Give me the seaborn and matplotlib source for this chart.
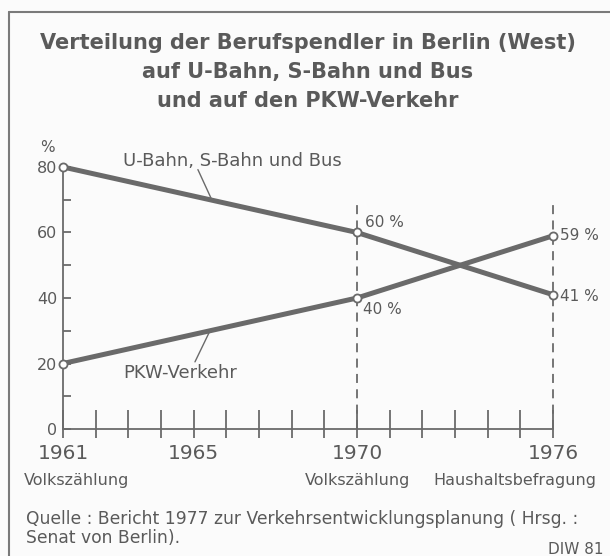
import numpy as np
import pandas as pd
import matplotlib
matplotlib.use("Agg")
import matplotlib.pyplot as plt
import seaborn as sns
from matplotlib.ticker import FixedLocator
from matplotlib.lines import Line2D
from matplotlib.transforms import blended_transform_factory

# ---------------- data ----------------
years = [1961, 1970, 1976]
oepnv_share = [80, 60, 41]
pkw_share = [20, 40, 59]
series_names = ["U-Bahn, S-Bahn und Bus", "PKW-Verkehr"]
year_ticks = list(range(1961, 1977))
year_labels = {1961: "1961", 1965: "1965", 1970: "1970", 1976: "1976"}
survey_labels = ["Volkszählung", "Volkszählung", "Haushaltsbefragung"]
y_major = [0, 20, 40, 60, 80]
y_minor = [10, 30, 50, 70]
oepnv_value_labels = ["", "60 %", "41 %"]
pkw_value_labels = ["", "40 %", "59 %"]
dashed_years = [1970, 1976]
dashed_top = 70
title_lines = ["Verteilung der Berufspendler in Berlin (West)",
               "auf U-Bahn, S-Bahn und Bus",
               "und auf den PKW-Verkehr"]
source_text = ["Quelle : Bericht 1977 zur Verkehrsentwicklungsplanung ( Hrsg. :",
               "Senat von Berlin)."]
credit = "DIW 81"

df = pd.DataFrame({
    "Jahr": years * 2,
    "Anteil": oepnv_share + pkw_share,
    "Verkehrsmittel": [series_names[0]] * len(years) + [series_names[1]] * len(years),
})

# ---------------- style ----------------
sns.set_style("white")
plt.rcParams["font.family"] = ["DejaVu Sans"]
GRAY = "#5a5a5a"
LINE = "#6a6a6a"
BG = "#fbfbfb"

W, H = 610, 556
fig = plt.figure(figsize=(W / 100, H / 100), dpi=100)
fig.patch.set_facecolor(BG)

def fx(x):
    return x / W

def fy(y):
    return 1 - y / H

ax = fig.add_axes([fx(63), fy(429), (553 - 63) / W, (429 - 167) / H])
ax.set_facecolor("none")

sns.lineplot(data=df, x="Jahr", y="Anteil", hue="Verkehrsmittel",
             palette=[LINE, LINE], linewidth=3.6, legend=False, ax=ax)
for ln in ax.lines:
    ln.set_clip_on(False)
    ln.set_solid_capstyle("butt")
sns.scatterplot(data=df, x="Jahr", y="Anteil", ax=ax, s=34, color="white",
                edgecolor=LINE, linewidth=1.3, zorder=6, legend=False, clip_on=False)

for yr in dashed_years:
    ax.plot([yr, yr], [0, dashed_top], color=LINE, lw=1.3, ls=(0, (5, 3.5)), zorder=1,
            clip_on=False)

ax.set_xlim(1961, 1976)
ax.set_ylim(0, 80)
ax.set_xlabel("")
ax.set_ylabel("")

for s in ["top", "right"]:
    ax.spines[s].set_visible(False)
for s in ["left", "bottom"]:
    ax.spines[s].set_color(LINE)
    ax.spines[s].set_linewidth(1.3)

ax.xaxis.set_major_locator(FixedLocator(year_ticks))
ax.set_xticklabels([year_labels.get(y, "") for y in year_ticks])
ax.tick_params(axis="x", which="major", bottom=True, direction="in", length=14, width=1.3,
               color=LINE, labelsize=14.5, labelcolor=GRAY, pad=11)

ax.yaxis.set_major_locator(FixedLocator(y_major))
ax.yaxis.set_minor_locator(FixedLocator(y_minor))
ax.set_yticklabels([str(v) for v in y_major])
ax.tick_params(axis="y", which="both", left=True, direction="in", length=6, width=1.3,
               color=LINE, labelsize=11.5, labelcolor=GRAY, pad=4)

# short downward tick stubs below the axis (x from the data scale, y in figure units)
stub_tr = blended_transform_factory(ax.transData, fig.transFigure)
for yr in year_ticks:
    fig.add_artist(Line2D([yr, yr], [fy(429), fy(438)], color=LINE, lw=1.3,
                          transform=stub_tr, solid_capstyle="butt", zorder=5))

# value labels
offsets_o = [(0, 0), (6, 7), (5, -1)]
offsets_p = [(0, 0), (4, -8), (5, 0)]
for i, yr in enumerate(years):
    if oepnv_value_labels[i]:
        ax.annotate(oepnv_value_labels[i], (yr, oepnv_share[i]), xytext=offsets_o[i],
                    textcoords="offset points", ha="left", va="center",
                    fontsize=11, color=GRAY, annotation_clip=False)
    if pkw_value_labels[i]:
        ax.annotate(pkw_value_labels[i], (yr, pkw_share[i]), xytext=offsets_p[i],
                    textcoords="offset points", ha="left", va="center",
                    fontsize=11, color=GRAY, annotation_clip=False)

# series labels with leader lines
x_lead_o = 1965.56
x_lead_p = 1965.5
ax.text(1962.84, 81.7, series_names[0], ha="left", va="center", fontsize=13,
        color=GRAY, clip_on=False)
ax.plot([1965.13, x_lead_o], [79.2, np.interp(x_lead_o, years, oepnv_share)],
        color=LINE, lw=1.0, clip_on=False)
ax.text(1962.84, 17.1, series_names[1], ha="left", va="center", fontsize=13,
        color=GRAY, clip_on=False)
ax.plot([1965.04, x_lead_p], [20.5, np.interp(x_lead_p, years, pkw_share)],
        color=LINE, lw=1.0, clip_on=False)

# percent sign
fig.text(fx(47), fy(148), "%", ha="center", va="center", fontsize=11, color=GRAY)

# survey labels
fig.text(fx(24), fy(481), survey_labels[0], ha="left", va="center", fontsize=11.5, color=GRAY)
fig.text(fx(410), fy(481), survey_labels[1], ha="right", va="center", fontsize=11.5, color=GRAY)
fig.text(fx(596), fy(481), survey_labels[2], ha="right", va="center", fontsize=11.5, color=GRAY)

# title
for i, t in enumerate(title_lines):
    fig.text(fx(308), fy(43 + 29 * i), t, ha="center", va="center", fontsize=15,
             fontweight="bold", color=GRAY, family=["DejaVu Sans"])

# source
fig.text(fx(26), fy(519), source_text[0], ha="left", va="center", fontsize=12.3, color=GRAY)
fig.text(fx(26), fy(538), source_text[1], ha="left", va="center", fontsize=12.3, color=GRAY)
fig.text(fx(603), fy(550), credit, ha="right", va="center", fontsize=11, color=GRAY)

# frame (top and left edges)
fig.add_artist(Line2D([fx(9), 1.0], [fy(12), fy(12)], color="#7a7a7a", lw=1.5,
                      transform=fig.transFigure))
fig.add_artist(Line2D([fx(9), fx(9)], [fy(12), 0.0], color="#7a7a7a", lw=1.5,
                      transform=fig.transFigure))

fig.savefig("out.png", dpi=100, facecolor=BG)
